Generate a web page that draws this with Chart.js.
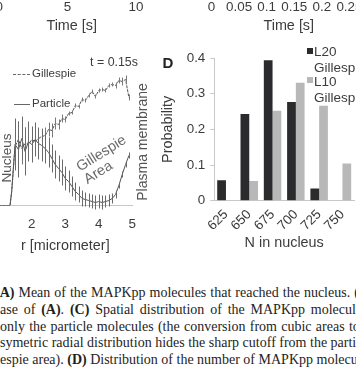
<!DOCTYPE html>
<html lang="en">
<head>
<meta charset="UTF-8">
<title>MAPKpp radial profile and nucleus counts</title>
<script src="https://cdn.jsdelivr.net/npm/chart.js@4.4.0/dist/chart.umd.min.js"></script>
<style>
  body { margin: 0; width: 356px; height: 368px; overflow: hidden; position: relative; background: #fff;
         font-family: "Liberation Sans", Arial, sans-serif; color: #3c3c3c; }
  canvas { position: absolute; display: block; }
  .lbl { position: absolute; white-space: nowrap; line-height: 1; transform: translate(-50%, -50%); }
  .left { transform: translate(0, -50%); }
  .sw { position: absolute; width: 6px; height: 6px; }
  .cap { position: absolute; left: 0; white-space: nowrap; line-height: 16px; height: 16px;
         font-family: "Liberation Serif", "Times New Roman", serif; font-size: 14px; color: #1e1e1e; }
  .cap b { font-weight: bold; }
</style>
</head>
<body>
  <!-- cropped time axes of panels A and B -->
  <canvas id="timeA" width="175" height="69" style="left:-20px; top:-30px"></canvas>
  <canvas id="timeB" width="180" height="69" style="left:190px; top:-30px"></canvas>

  <!-- panel C -->
  <canvas id="profile" width="159" height="199" style="left:-12px; top:60px"></canvas>
  <div class="lbl" style="left:114px; top:62px; font-size:12.4px">t = 0.15s</div>
  <div style="position:absolute; left:13px; top:74px; width:17px; border-top:1px dashed #666"></div>
  <div class="lbl left" style="left:32px; top:74px; font-size:11.5px">Gillespie</div>
  <div style="position:absolute; left:14px; top:104px; width:16px; border-top:1px solid #666"></div>
  <div class="lbl left" style="left:32px; top:104px; font-size:11.5px">Particle</div>
  <div class="lbl" style="left:7px; top:158px; font-size:13.6px; color:#555; transform:translate(-50%,-50%) rotate(-90deg)">Nucleus</div>
  <div class="lbl" style="left:141.5px; top:142px; font-size:14px; color:#555; transform:translate(-50%,-50%) rotate(-90deg)">Plasma membrane</div>
  <div class="lbl" style="left:101px; top:153px; font-size:14.5px; color:#6a6a6a; transform:translate(-50%,-50%) rotate(-32deg)">Gillespie</div>
  <div class="lbl" style="left:98px; top:172px; font-size:14.5px; color:#6a6a6a; transform:translate(-50%,-50%) rotate(-32deg)">Area</div>

  <!-- panel D -->
  <canvas id="dist" width="210" height="211" style="left:155px; top:45px"></canvas>
  <div class="lbl" style="left:168px; top:62px; font-size:15px; font-weight:bold; color:#222">D</div>
  <div class="sw" style="left:307px; top:48px; background:#2b2b2d"></div>
  <div class="lbl left" style="left:314px; top:52px; font-size:13.5px">L20</div>
  <div class="lbl left" style="left:314px; top:68px; font-size:13.5px">Gillespie</div>
  <div class="sw" style="left:307px; top:77px; background:#b8b8b8"></div>
  <div class="lbl left" style="left:314px; top:81.5px; font-size:13.5px">L10</div>
  <div class="lbl left" style="left:314px; top:97.5px; font-size:13.5px">Gillespie</div>

  <!-- caption (cropped) -->
  <div class="cap" style="top:285px; left:-5px; word-spacing:0.5px"><b>(A)</b> Mean of the MAPKpp molecules that reached the nucleus. <b>(B)</b></div>
  <div class="cap" style="top:302px; word-spacing:2.3px">ase of <b>(A)</b>. <b>(C)</b> Spatial distribution of the MAPKpp molecules</div>
  <div class="cap" style="top:319px; word-spacing:0.8px">only the particle molecules (the conversion from cubic areas to</div>
  <div class="cap" style="top:335px">symetric radial distribution hides the sharp cutoff from the particle</div>
  <div class="cap" style="top:352px">espie area). <b>(D)</b> Distribution of the number of MAPKpp molecules</div>

<script>
  // panel C: radial profile at t = 0.15s
  const radius = [1.0, 1.35, 1.4, 1.5, 1.6, 1.7, 1.8, 1.9, 2.0, 2.1, 2.2, 2.3, 2.4, 2.5, 2.6, 2.7, 2.8, 2.9, 3.0,
                  3.1, 3.2, 3.3, 3.4, 3.5, 3.6, 3.7, 3.8, 3.9, 4.0, 4.1, 4.2, 4.3, 4.4, 4.5, 4.6, 4.7, 4.8, 4.9];
  const gillespie = [0, 0, 1.4, 5.9, 6.6, 5.7, 6.2, 6.1, 6.6, 6.4, 6.7, 6.9, 7.0, 7.6, 7.5, 8.2, 8.1, 8.7, 8.6,
                     9.2, 9.3, 10.0, 9.9, 10.6, 10.5, 11.0, 11.4, 10.9, 11.5, 11.6, 11.5, 12.0, 12.1, 12.0, 12.5, 12.4, 12.6, 10.8];
  const gillespieErr = [0, 0, 0, 2.0, 1.8, 1.6, 1.6, 1.4, 1.2, 1.0, 0.9, 0.8, 0.8, 0.7, 0.7, 0.6, 0.5, 0.4, 0.3,
                        0.2, 0.2, 0.2, 0.2, 0.2, 0.2, 0.2, 0.2, 0.2, 0.2, 0.2, 0.2, 0.2, 0.2, 0.3, 0.3, 0.4, 0.4, 0.3];
  const particle = [0, 0, 1.4, 6.1, 5.6, 6.7, 5.4, 6.4, 6.1, 6.6, 6.2, 6.0, 5.7, 5.3, 4.7, 4.1, 3.7, 3.3, 2.7,
                    2.4, 1.9, 1.4, 1.1, 0.7, 0.6, 0.5, 0.4, 0.3, 0.4, 0.3, 0.4, 0.5, 0.7, 1.1, 2.0, 3.1, 4.1, 5.0];
  const particleErr = [0, 0, 0, 2.6, 2.8, 2.2, 2.4, 2.0, 1.8, 1.7, 1.6, 1.6, 1.5, 1.5, 1.4, 1.4, 1.3, 1.3, 1.2,
                       1.1, 1.0, 0.9, 0.8, 0.8, 0.7, 0.7, 0.7, 0.7, 0.7, 0.7, 0.6, 0.6, 0.5, 0.4, 0.3, 0.3, 0.3, 0.3];

  // panel D: distribution of N in nucleus
  const nLabels = ['625', '650', '675', '700', '725', '750'];
  const l20 = [0.057, 0.243, 0.394, 0.277, 0.034, 0];
  const l10 = [0, 0.055, 0.252, 0.331, 0.266, 0.104];

  Chart.defaults.font.family = '"Liberation Sans", Arial, sans-serif';
  Chart.defaults.color = '#3c3c3c';

  const tickFont = { size: 13.4 };
  const titleFont = { size: 14.4 };

  // vertical error bars, read from dataset.errors
  const errorBars = {
    id: 'errorBars',
    afterDatasetsDraw(chart) {
      const ctx = chart.ctx;
      const yScale = chart.scales.y;
      chart.data.datasets.forEach((ds, i) => {
        if (!ds.errors) return;
        const meta = chart.getDatasetMeta(i);
        ctx.save();
        ctx.strokeStyle = ds.errorColor;
        ctx.lineWidth = 1;
        meta.data.forEach((pt, j) => {
          const e = ds.errors[j];
          if (!e) return;
          const v = ds.data[j].y;
          const x = Math.round(pt.x) + 0.5;
          ctx.beginPath();
          ctx.moveTo(x, yScale.getPixelForValue(v + e));
          ctx.lineTo(x, yScale.getPixelForValue(v - e));
          ctx.stroke();
        });
        ctx.restore();
      });
    }
  };

  // cropped time axis (only tick labels and title remain visible)
  function timeAxis(id, max, step, pad) {
    new Chart(document.getElementById(id), {
      type: 'scatter',
      data: { datasets: [] },
      options: {
        responsive: false,
        animation: false,
        layout: { padding: pad },
        plugins: { legend: { display: false }, tooltip: { enabled: false } },
        scales: {
          x: {
            type: 'linear', min: 0, max: max,
            grid: { display: false, drawTicks: false },
            border: { display: false },
            ticks: {
              stepSize: step, includeBounds: false, autoSkip: false, maxRotation: 0, padding: 3, font: tickFont,
              callback: v => String(+v.toFixed(2))
            },
            afterFit: s => { s.height = 43; },
            title: { display: true, text: 'Time [s]', font: titleFont, padding: { top: 4, bottom: 4 } }
          },
          y: { display: false, min: 0, max: 1 }
        }
      }
    });
  }
  timeAxis('timeA', 10.6, 5, { left: 19.2, right: 10.8, top: 0, bottom: 0 });
  timeAxis('timeB', 0.28, 0.05, { left: 21.5, right: 4, top: 0, bottom: 0 });

  new Chart(document.getElementById('profile'), {
    type: 'line',
    data: {
      datasets: [
        {
          label: 'Gillespie',
          data: radius.map((r, i) => ({ x: r, y: gillespie[i] })),
          errors: gillespieErr,
          errorColor: '#7a7a7a',
          borderColor: '#555',
          borderWidth: 1,
          borderDash: [3, 1],
          pointRadius: 0
        },
        {
          label: 'Particle',
          data: radius.map((r, i) => ({ x: r, y: particle[i] })),
          errors: particleErr,
          errorColor: '#6a6a6a',
          borderColor: '#555',
          borderWidth: 1,
          pointRadius: 0
        }
      ]
    },
    options: {
      responsive: false,
      animation: false,
      layout: { padding: { left: 10.3, right: 10, top: 5.5, bottom: 0 } },
      plugins: { legend: { display: false }, tooltip: { enabled: false } },
      scales: {
        x: {
          type: 'linear', min: 1, max: 5,
          afterBuildTicks: s => { s.ticks = s.ticks.filter(t => t.value >= 2); },
          afterFit: s => { s.height = 53.5; },
          grid: { display: false, drawTicks: false },
          border: { color: '#c8c8c8' },
          ticks: { stepSize: 1, padding: 11, font: tickFont },
          title: { display: true, text: 'r [micrometer]', font: titleFont, padding: { top: 4, bottom: 4 } }
        },
        y: { display: false, min: 0, max: 14 }
      }
    },
    plugins: [errorBars]
  });

  new Chart(document.getElementById('dist'), {
    type: 'bar',
    data: {
      labels: nLabels,
      datasets: [
        { label: 'L20 Gillespie', data: l20, backgroundColor: '#2b2b2d', categoryPercentage: 0.75, barPercentage: 1 },
        { label: 'L10 Gillespie', data: l10, backgroundColor: '#b8b8b8', categoryPercentage: 0.75, barPercentage: 1 }
      ]
    },
    options: {
      responsive: false,
      animation: false,
      layout: { padding: { left: 0.6, right: 10.9, top: 12.7, bottom: 0.4 } },
      plugins: { legend: { display: false }, tooltip: { enabled: false } },
      scales: {
        x: {
          grid: { display: false, drawTicks: false },
          border: { color: '#c8c8c8' },
          ticks: { minRotation: 45, maxRotation: 45, autoSkip: false, padding: 6, font: tickFont },
          afterFit: s => { s.height = 54.9; },
          title: { display: true, text: 'N in nucleus', font: titleFont, padding: { top: 4, bottom: 4 } }
        },
        y: {
          min: 0, max: 0.4,
          ticks: { stepSize: 0.1, padding: 5, font: tickFont },
          grid: { drawOnChartArea: false, tickLength: 4, color: '#c8c8c8' },
          border: { color: '#c8c8c8' },
          afterFit: s => { s.width = 58.7; },
          title: { display: true, text: 'Probability', font: titleFont, padding: { top: 4, bottom: 4 } }
        }
      }
    }
  });
</script>
</body>
</html>
